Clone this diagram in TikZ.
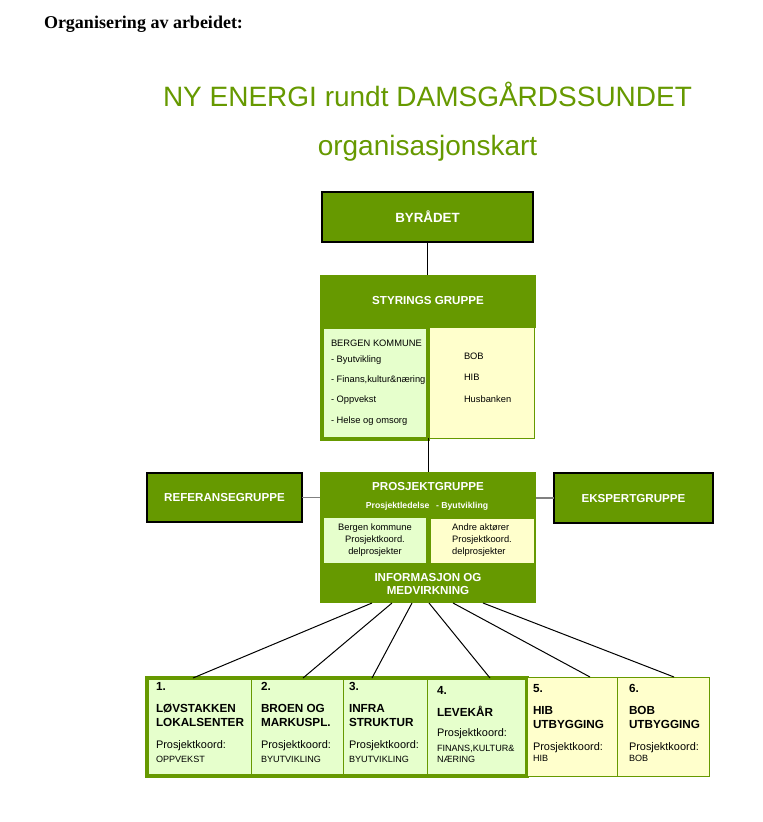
\documentclass[tikz,border=0pt]{standalone}
\usepackage{fontspec}
\setmainfont{Liberation Sans}
\newfontfamily\headserif{Liberation Serif}
\usetikzlibrary{calc}
\definecolor{orggreen}{HTML}{669900}
\definecolor{palegreen}{HTML}{E6FFCC}
\definecolor{paleyellow}{HTML}{FFFFCC}
\newlength{\unitpx}
\setlength{\unitpx}{0.75pt}

\begin{document}
\begin{tikzpicture}[x=0.75pt,y=-0.75pt,
	every node/.style={inner sep=0pt,outer sep=0pt},
	greenbox/.style={fill=orggreen,text=white,align=center,font=\bfseries\fontsize{8.7}{10}\selectfont},
	framed/.style={greenbox,draw=black,line width=1.5\unitpx},
	whitetext/.style={text=white,font=\bfseries\fontsize{8.7}{10}\selectfont},
	gbox/.style={fill=palegreen,draw=orggreen,line width=1\unitpx},
	ybox/.style={fill=paleyellow,draw=orggreen,line width=1\unitpx},
	listtext/.style={anchor=base west,font=\fontsize{7}{9}\selectfont},
	numtext/.style={anchor=base west,font=\bfseries\fontsize{8.8}{11}\selectfont},
	koordtext/.style={anchor=base west,font=\fontsize{8.2}{10}\selectfont},
	tinytext/.style={anchor=base west,font=\fontsize{6.8}{8}\selectfont},
	conn/.style={draw=black,line width=1\unitpx},
	sideline/.style={draw=gray,line width=1.5\unitpx}]
	\useasboundingbox (0,0) rectangle (763,822);

	% headings
	\node[anchor=base west,font=\headserif\bfseries\fontsize{13.5}{16}\selectfont] (head) at (44,28) {Organisering av arbeidet:};
	\node[anchor=base,text=orggreen,font=\fontsize{21}{24}\selectfont] (title) at (427.5,106) {NY ENERGI rundt DAMSGÅRDSSUNDET};
	\node[anchor=base,text=orggreen,font=\fontsize{21}{24}\selectfont] (subtitle) at (427.5,155) {organisasjonskart};

	% byraadet
	\node[framed,minimum width=211\unitpx,minimum height=50\unitpx,font=\bfseries\fontsize{10}{12}\selectfont] (byr) at (427.5,217) {BYRÅDET};

	% styrings gruppe
	\node[greenbox,minimum width=216\unitpx,minimum height=53\unitpx] (sty) at (428,301) {STYRINGS GRUPPE};
	\node[ybox,minimum width=106\unitpx,minimum height=111\unitpx] (styR) at (481,382.5) {};
	\node[fill=palegreen,draw=orggreen,line width=4\unitpx,minimum width=106\unitpx,minimum height=112\unitpx] (styL) at (375,383) {};
	\node[listtext] (styL1) at (331,346.5) {BERGEN KOMMUNE};
	\node[listtext] (styL2) at (331,362) {- Byutvikling};
	\node[listtext] (styL3) at (331,382.5) {- Finans,kultur\&næring};
	\node[listtext] (styL4) at (331,402) {- Oppvekst};
	\node[listtext] (styL5) at (331,423.5) {- Helse og omsorg};
	\node[listtext] (styR1) at (464,359) {BOB};
	\node[listtext] (styR2) at (464,380.5) {HIB};
	\node[listtext] (styR3) at (464,402.5) {Husbanken};
	\draw[conn] (byr.south) -- (byr.south |- sty.north);

	% prosjektgruppe
	\node[greenbox,minimum width=216\unitpx,minimum height=131\unitpx] (pro) at (428,537.5) {};
	\node[fill=palegreen,minimum width=102\unitpx,minimum height=45\unitpx,align=center,font=\fontsize{7}{9}\selectfont] (proL) at (375,540.5) {Bergen kommune\\Prosjektkoord.\\delprosjekter};
	\node[ybox,minimum width=104\unitpx,minimum height=45\unitpx,align=left,font=\fontsize{7}{9}\selectfont] (proR) at (482,540.5) {Andre aktører\\Prosjektkoord.\\delprosjekter};
	\node[whitetext,anchor=base] (proT) at (428,490) {PROSJEKTGRUPPE};
	\node[whitetext,anchor=base,font=\bfseries\fontsize{6.5}{8}\selectfont] (proS) at (427,508.5) {Prosjektledelse\hspace{5pt}- Byutvikling};
	\node[whitetext,align=center] (info) at (428,584) {INFORMASJON OG\\MEDVIRKNING};
	\draw[conn] (styR.south west) -- (styR.south west |- pro.north);

	% referanse and ekspert
	\node[framed,minimum width=155\unitpx,minimum height=49\unitpx] (refer) at (224.5,497.5) {REFERANSEGRUPPE};
	\node[framed,minimum width=159\unitpx,minimum height=50\unitpx] (ekspert) at (633.5,498) {EKSPERTGRUPPE};
	\draw[sideline] (refer.east) -- (refer.east -| pro.west);
	\draw[sideline] (ekspert.west) -- (ekspert.west -| pro.east);

	% delprosjekter
	\node[gbox,minimum width=104\unitpx,minimum height=98\unitpx] (b1) at (199,727) {};
	\node[gbox,minimum width=92\unitpx,minimum height=98\unitpx] (b2) at (297,727) {};
	\node[gbox,minimum width=84\unitpx,minimum height=98\unitpx] (b3) at (385,727) {};
	\node[gbox,minimum width=100\unitpx,minimum height=98\unitpx] (b4) at (477,727) {};
	\node[draw=orggreen,line width=4\unitpx,minimum width=380\unitpx,minimum height=98\unitpx] (grp) at (337,727) {};
	\node[ybox,minimum width=90\unitpx,minimum height=99\unitpx] (b5) at (572,726.5) {};
	\node[ybox,minimum width=92\unitpx,minimum height=99\unitpx] (b6) at (663,726.5) {};

	\node[numtext] (b1n) at (156,690) {1.};
	\node[numtext] (b1a) at (156,712.5) {LØVSTAKKEN};
	\node[numtext] (b1b) at (156,726.5) {LOKALSENTER};
	\node[koordtext] (b1k) at (156,748) {Prosjektkoord:};
	\node[tinytext] (b1s) at (156,762) {OPPVEKST};

	\node[numtext] (b2n) at (261,690) {2.};
	\node[numtext] (b2a) at (261,712.5) {BROEN OG};
	\node[numtext] (b2b) at (261,726.5) {MARKUSPL.};
	\node[koordtext] (b2k) at (261,748) {Prosjektkoord:};
	\node[tinytext] (b2s) at (261,762) {BYUTVIKLING};

	\node[numtext] (b3n) at (349,690) {3.};
	\node[numtext] (b3a) at (349,712.5) {INFRA};
	\node[numtext] (b3b) at (349,726.5) {STRUKTUR};
	\node[koordtext] (b3k) at (349,748) {Prosjektkoord:};
	\node[tinytext] (b3s) at (349,762) {BYUTVIKLING};

	\node[numtext] (b4n) at (437,694) {4.};
	\node[numtext] (b4a) at (437,716.5) {LEVEKÅR};
	\node[koordtext] (b4k) at (437,736) {Prosjektkoord:};
	\node[tinytext] (b4s) at (437,751) {FINANS,KULTUR\&};
	\node[tinytext] (b4t) at (437,762) {NÆRING};

	\node[numtext] (b5n) at (533,692.5) {5.};
	\node[numtext] (b5a) at (533,714) {HIB};
	\node[numtext] (b5b) at (533,728) {UTBYGGING};
	\node[koordtext] (b5k) at (533,750) {Prosjektkoord:};
	\node[tinytext] (b5s) at (533,761.5) {HIB};

	\node[numtext] (b6n) at (629,692.5) {6.};
	\node[numtext] (b6a) at (629,714) {BOB};
	\node[numtext] (b6b) at (629,728) {UTBYGGING};
	\node[koordtext] (b6k) at (629,750) {Prosjektkoord:};
	\node[tinytext] (b6s) at (629,761.5) {BOB};

	% connectors to delprosjekter
	\draw[conn] ($(pro.south)+(-56,0)$) -- ($(b1.north)+(-6,0)$);
	\draw[conn] ($(pro.south)+(-36,0)$) -- ($(b2.north)+(6,0)$);
	\draw[conn] ($(pro.south)+(-16,0)$) -- ($(b3.north)+(-13,0)$);
	\draw[conn] ($(pro.south)+(1,0)$) -- ($(b4.north)+(13,0)$);
	\draw[conn] ($(pro.south)+(25,0)$) -- ($(b5.north)+(18,0)$);
	\draw[conn] ($(pro.south)+(55,0)$) -- ($(b6.north)+(11,0)$);
\end{tikzpicture}
\end{document}
